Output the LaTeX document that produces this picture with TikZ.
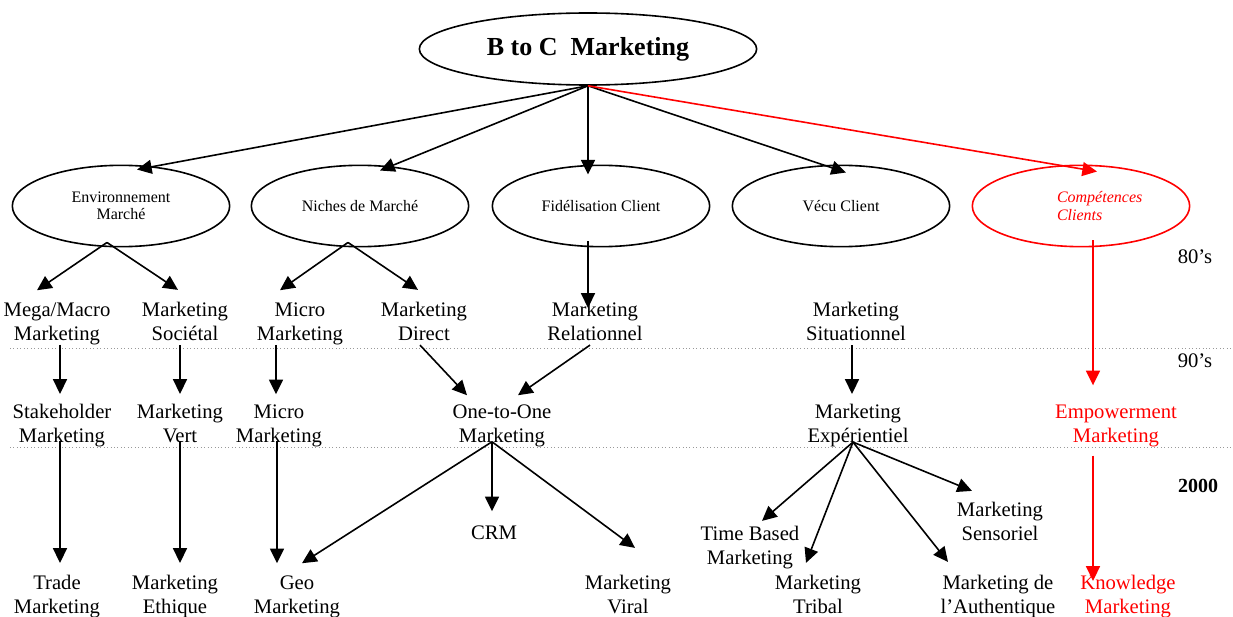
\documentclass[tikz,border=0pt]{standalone}
\usepackage{fontspec}
\setmainfont{Liberation Serif}
\usetikzlibrary{shapes.geometric,arrows.meta,calc}

\begin{document}
\begin{tikzpicture}[x=0.75pt, y=-0.75pt,
		ell/.style={draw, ellipse, line width=1.2pt, align=center,
			minimum width=163pt, minimum height=61pt,
			font=\fontsize{12}{13}\selectfont},
		txt/.style={align=center, inner sep=1pt, text depth=3.5pt,
			font=\fontsize{15.5}{18}\selectfont},
		arr/.style={line width=1.2pt, -{Triangle[length=11pt, width=10.5pt]}},
		hot/.style={red},
		era/.style={gray!80, line width=0.6pt, dotted},
	]
	\useasboundingbox (0,0) rectangle (1233,617);

	\node[ell, minimum width=253pt, minimum height=54pt,
			font=\fontsize{19.5}{22}\selectfont\bfseries,
		] (top) at (588,49) {B to C\ \ Marketing};

	\node[ell] (env) at (121,206) {Environnement\\ Marché};
	\node[ell] (nic) at (360,206) {Niches de Marché};
	\node[ell] (fid) at (601,206) {Fidélisation Client};
	\node[ell] (vec) at (841,206) {Vécu Client};
	\node[ell, hot, align=left,
			font=\fontsize{12}{13}\selectfont\itshape,
		] (comp) at (1081,206) {\hspace*{28pt}Compétences\\ \hspace*{28pt}Clients};

	% 80's
	\node[txt] (mega) at (57,324) {Mega/Macro\\ Marketing};
	\node[txt] (soc) at (185,324) {Marketing\\ Sociétal};
	\node[txt] (mic) at (300,324) {Micro\\ Marketing};
	\node[txt] (dir) at (424,324) {Marketing\\ Direct};
	\node[txt] (rel) at (595,324) {Marketing\\ Relationnel};
	\node[txt] (sit) at (856,324) {Marketing\\ Situationnel};

	% 90's
	\node[txt] (stk) at (62,426) {Stakeholder\\ Marketing};
	\node[txt] (vrt) at (180,426) {Marketing\\ Vert};
	\node[txt] (mic2) at (279,426) {Micro\\ Marketing};
	\node[txt] (one) at (502,426) {One-to-One\\ Marketing};
	\node[txt] (exp) at (858,426) {Marketing\\ Expérientiel};
	\node[txt, hot] (emp) at (1116,426) {Empowerment\\ Marketing};

	% 2000
	\node[txt] (trd) at (57,597) {Trade\\ Marketing};
	\node[txt] (eth) at (175,597) {Marketing\\ Ethique};
	\node[txt] (geo) at (297,597) {Geo\\ Marketing};
	\node[txt] (crm) at (494,535) {CRM};
	\node[txt] (vir) at (628,597) {Marketing\\ Viral};
	\node[txt] (tim) at (750,548) {Time Based\\ Marketing};
	\node[txt] (tri) at (818,597) {Marketing\\ Tribal};
	\node[txt] (sen) at (1000,524) {Marketing\\ Sensoriel};
	\node[txt] (aut) at (998,597) {Marketing de\\ l’Authentique};
	\node[txt, hot] (kno) at (1128,597) {Knowledge\\ Marketing};

	\node[txt] (l80) at (1195,259) {80’s};
	\node[txt] (l90) at (1195,363) {90’s};
	\node[txt, font=\fontsize{15}{17}\selectfont\bfseries] (l00) at (1198,488) {2000};

	\draw[era] (10,348) -- (1233,348);
	\draw[era] (10,447) -- (1233,447);

	\coordinate (envf) at ($(env.south)+(-14,-5)$);
	\coordinate (nicf) at ($(nic.south)+(-12,-5)$);
	\coordinate (onef) at ($(one.south)+(-10,-7)$);
	\coordinate (expf) at ($(exp.south)+(-5,-7)$);

	\draw[arr] (top.south) -- ($(env.north)+(16,5)$);
	\draw[arr] (top.south) -- ($(nic.north)+(20,6)$);
	\draw[arr] (top.south) -- ($(fid.north)+(-13,10)$);
	\draw[arr] (top.south) -- ($(vec.north)+(5,8)$);
	\draw[arr, hot] (top.south) -- ($(comp.north)+(16,7)$);

	\draw[arr] (envf) -- ($(mega.north)+(-20,-11)$);
	\draw[arr] (envf) -- ($(soc.north)+(-7,-11)$);
	\draw[arr] (nicf) -- ($(mic.north)+(-20,-11)$);
	\draw[arr] (nicf) -- ($(dir.north)+(-6,-11)$);
	\draw[arr] ($(fid.south)+(-13,-6)$) -- ($(rel.north)+(-7,7)$);
	\draw[arr, hot] ($(comp.south)+(12,-7)$) -- ($(emp.north)+(-23,-18)$);

	\draw[arr] ($(mega.south)+(3,-2)$) -- ($(stk.north)+(-2,-9)$);
	\draw[arr] ($(soc.south)+(-5,-2)$) -- ($(vrt.north)+(0,-9)$);
	\draw[arr] ($(mic.south)+(-24,-2)$) -- ($(mic2.north)+(-3,-9)$);
	\draw[arr] ($(dir.south)+(-4,-2)$) -- ($(one.north)+(-35,-8)$);
	\draw[arr] ($(rel.south)+(-5,-2)$) -- ($(one.north)+(16,-8)$);
	\draw[arr] ($(sit.south)+(-4,-2)$) -- ($(exp.north)+(-6,-9)$);

	\draw[arr] ($(stk.south)+(-2,-8)$) -- ($(trd.north)+(3,-11)$);
	\draw[arr] ($(vrt.south)+(0,-8)$) -- ($(eth.north)+(5,-11)$);
	\draw[arr] ($(mic2.south)+(-2,-8)$) -- ($(geo.north)+(-20,-11)$);
	\draw[arr] (onef) -- ($(geo.north)+(5,-11)$);
	\draw[arr] (onef) -- ($(crm.north)+(-2,-13)$);
	\draw[arr] (onef) -- ($(vir.north)+(7,-26)$);
	\draw[arr] (expf) -- ($(tim.north)+(12,-4)$);
	\draw[arr] (expf) -- ($(tri.north)+(-12,-11)$);
	\draw[arr] (expf) -- ($(sen.north)+(-28,-10)$);
	\draw[arr] (expf) -- ($(aut.north)+(-50,-12)$);
	\draw[arr, hot] ($(emp.south)+(-23,7)$) -- ($(kno.north)+(-35,7)$);
\end{tikzpicture}
\end{document}
